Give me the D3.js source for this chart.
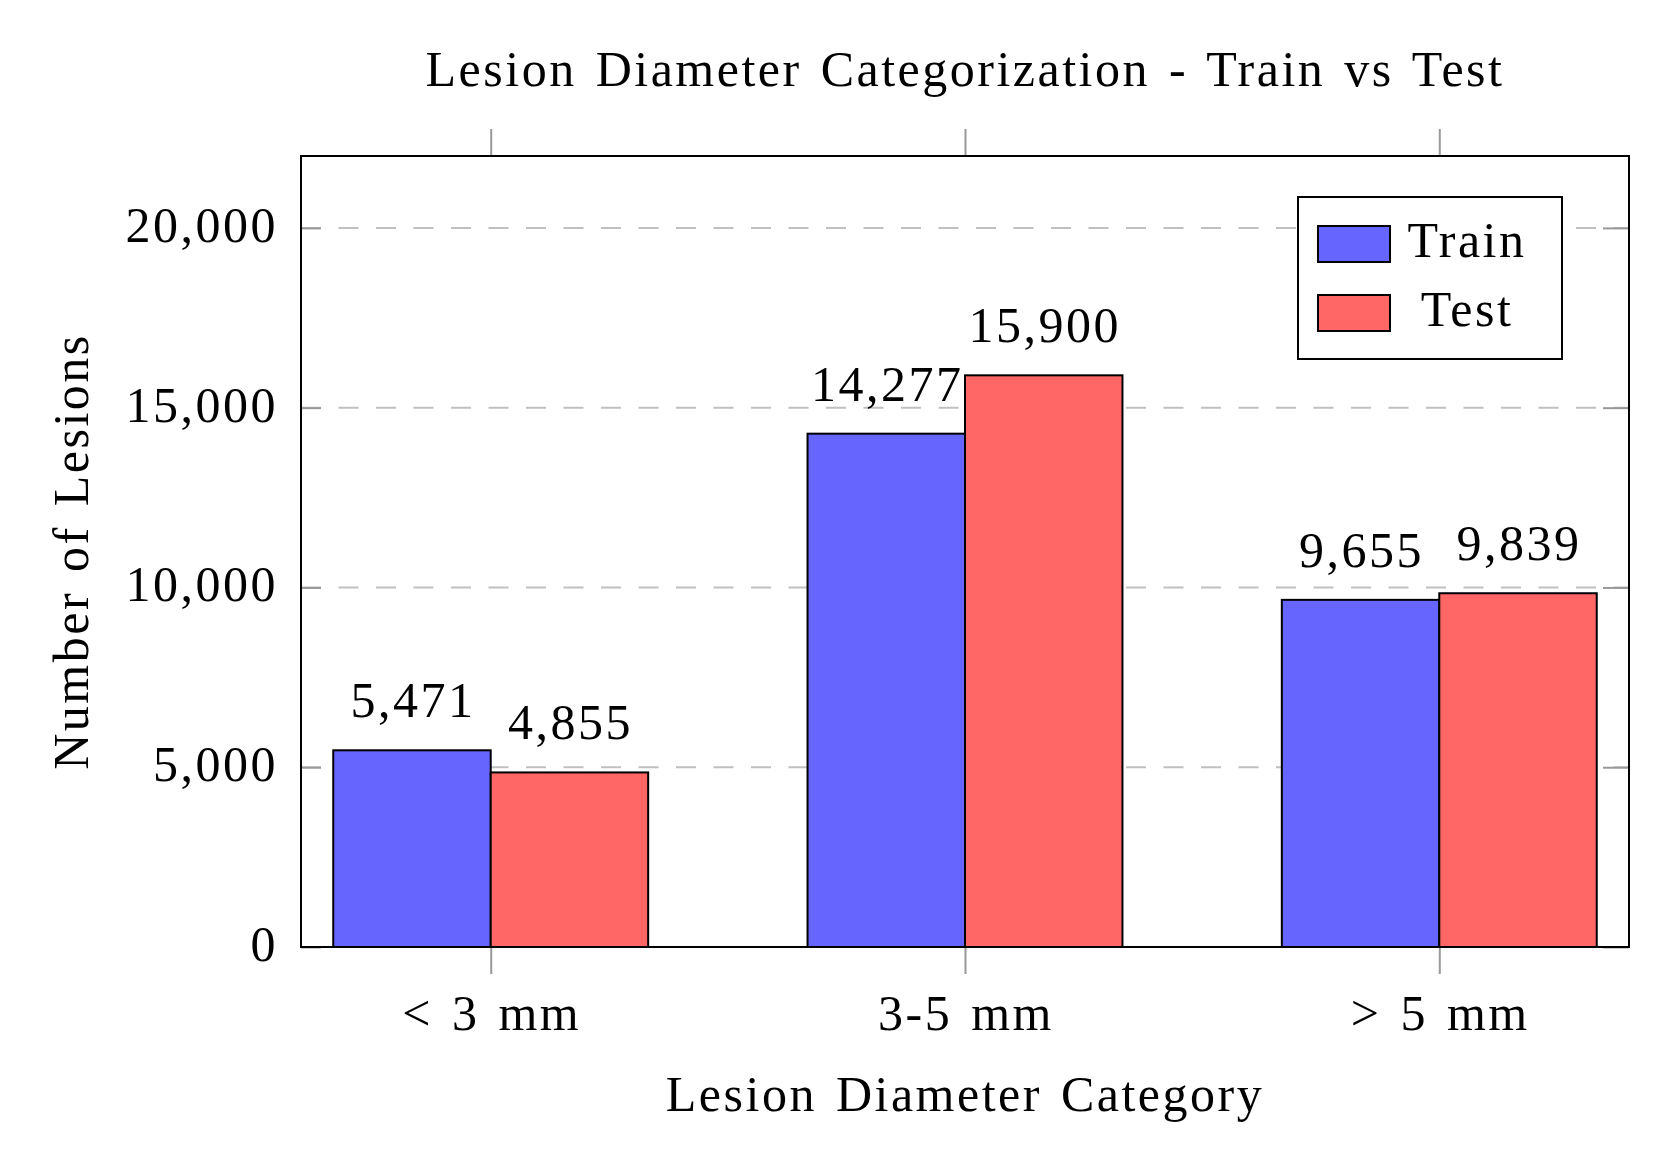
<!DOCTYPE html>
<html>
<head>
<meta charset="utf-8">
<script src="https://cdn.jsdelivr.net/npm/d3@7"></script>
<style>
    body { margin: 0; background: #fff; }
    text { font-family: "Liberation Serif", "DejaVu Serif", serif; fill: #000; letter-spacing: 2.5px; word-spacing: 4px; }
</style>
</head>
<body>
<script>
//place script in anon function
(function(){

// data arrays
var categories = ["< 3 mm", "3-5 mm", "> 5 mm"];
var seriesNames = ["Train", "Test"];
var trainValues = [5471, 14277, 9655];
var testValues = [4855, 15900, 9839];
var yTicks = [0, 5000, 10000, 15000, 20000];

var seriesColors = ["#6666ff", "#ff6666"];

// svg dimensions
var width = 1662,
    height = 1172,
    plotLeft = 301,
    plotRight = 1629,
    plotTop = 156,
    plotBottom = 947,
    fontSize = 50;

var svg = d3.select("body")
    .append("svg")
    .attr("width", width)
    .attr("height", height);

svg.append("rect")
    .attr("width", width)
    .attr("height", height)
    .attr("fill", "#fff");

// scales
var x0 = d3.scalePoint()
    .domain(categories)
    .range([plotLeft, plotRight])
    .padding(0.4);

var barWidth = x0.step() * 0.332;

var x1 = d3.scaleBand()
    .domain(seriesNames)
    .range([-barWidth, barWidth]);

var y = d3.scaleLinear()
    .domain([0, 22000])
    .range([plotBottom, plotTop]);

var fmt = d3.format(",");

// grid lines
svg.append("g")
    .selectAll("line")
    .data(yTicks.filter(function(d){ return d > 0; }))
    .enter()
    .append("line")
    .attr("x1", plotLeft)
    .attr("x2", plotRight)
    .attr("y1", function(d){ return y(d); })
    .attr("y2", function(d){ return y(d); })
    .attr("stroke", "#c0c0c0")
    .attr("stroke-width", 2)
    .attr("stroke-dasharray", "20,17.5");

// y axis ticks (inside, both sides) + labels
var yAxisLeft = svg.append("g")
    .attr("transform", "translate(" + plotLeft + ",0)")
    .call(d3.axisRight(y).tickValues(yTicks).tickSize(20).tickFormat(""));
var yAxisRight = svg.append("g")
    .attr("transform", "translate(" + plotRight + ",0)")
    .call(d3.axisLeft(y).tickValues(yTicks).tickSize(26).tickFormat(""));
[yAxisLeft, yAxisRight].forEach(function(a){
    a.select(".domain").remove();
    a.selectAll(".tick line").attr("stroke", "#999").attr("stroke-width", 2);
});

svg.append("g")
    .selectAll("text")
    .data(yTicks)
    .enter()
    .append("text")
    .attr("x", plotLeft - 23)
    .attr("y", function(d){ return y(d) + 14; })
    .attr("text-anchor", "end")
    .style("font-size", fontSize + "px")
    .text(function(d){ return fmt(d); });

// x axis ticks (outside, top and bottom)
var xAxisBottom = svg.append("g")
    .attr("transform", "translate(0," + plotBottom + ")")
    .call(d3.axisBottom(x0).tickSize(27).tickFormat(""));
var xAxisTop = svg.append("g")
    .attr("transform", "translate(0," + plotTop + ")")
    .call(d3.axisTop(x0).tickSize(27).tickFormat(""));
[xAxisBottom, xAxisTop].forEach(function(a){
    a.select(".domain").remove();
    a.selectAll(".tick line").attr("stroke", "#999").attr("stroke-width", 2);
});

svg.append("g")
    .selectAll("text")
    .data(categories)
    .enter()
    .append("text")
    .attr("x", function(d){ return x0(d) + 1; })
    .attr("y", 1030)
    .attr("text-anchor", "middle")
    .style("font-size", fontSize + "px")
    .text(function(d){ return d; });

// bars
var seriesData = [trainValues, testValues];
seriesNames.forEach(function(name, s){
    var g = svg.append("g").attr("class", "series " + name);

    g.selectAll("rect")
        .data(seriesData[s])
        .enter()
        .append("rect")
        .attr("x", function(d, i){ return x0(categories[i]) + x1(name); })
        .attr("y", function(d){ return y(d); })
        .attr("width", x1.bandwidth())
        .attr("height", function(d){ return y(0) - y(d); })
        .attr("fill", seriesColors[s])
        .attr("stroke", "#000")
        .attr("stroke-width", 2);

    // value labels
    g.selectAll("text")
        .data(seriesData[s])
        .enter()
        .append("text")
        .attr("x", function(d, i){ return x0(categories[i]) + x1(name) + x1.bandwidth() / 2 + 1; })
        .attr("y", function(d){ return y(d) - 33; })
        .attr("text-anchor", "middle")
        .style("font-size", fontSize + "px")
        .text(function(d){ return fmt(d); });
});

// axis frame
svg.append("rect")
    .attr("x", plotLeft)
    .attr("y", plotTop)
    .attr("width", plotRight - plotLeft)
    .attr("height", plotBottom - plotTop)
    .attr("fill", "none")
    .attr("stroke", "#000")
    .attr("stroke-width", 2);

// legend
var legend = svg.append("g").attr("class", "legend");
legend.append("rect")
    .attr("x", 1298)
    .attr("y", 197)
    .attr("width", 264)
    .attr("height", 162)
    .attr("fill", "#fff")
    .attr("stroke", "#000")
    .attr("stroke-width", 2);

var legendItems = legend.selectAll(".item")
    .data(seriesNames)
    .enter()
    .append("g")
    .attr("class", "item")
    .attr("transform", function(d, i){ return "translate(0," + (i * 69) + ")"; });

legendItems.append("rect")
    .attr("x", 1318)
    .attr("y", 226)
    .attr("width", 72)
    .attr("height", 36)
    .attr("fill", function(d, i){ return seriesColors[i]; })
    .attr("stroke", "#000")
    .attr("stroke-width", 2);

legendItems.append("text")
    .attr("x", 1467)
    .attr("y", 257)
    .attr("text-anchor", "middle")
    .style("font-size", fontSize + "px")
    .text(function(d){ return d; });

// titles
svg.append("text")
    .attr("x", (plotLeft + plotRight) / 2)
    .attr("y", 86)
    .attr("text-anchor", "middle")
    .style("font-size", fontSize + "px")
    .text("Lesion Diameter Categorization - Train vs Test");

svg.append("text")
    .attr("x", (plotLeft + plotRight) / 2)
    .attr("y", 1111)
    .attr("text-anchor", "middle")
    .style("font-size", fontSize + "px")
    .text("Lesion Diameter Category");

svg.append("text")
    .attr("transform", "translate(88," + ((plotTop + plotBottom) / 2) + ") rotate(-90)")
    .attr("text-anchor", "middle")
    .style("font-size", fontSize + "px")
    .text("Number of Lesions");

})();
</script>
</body>
</html>
